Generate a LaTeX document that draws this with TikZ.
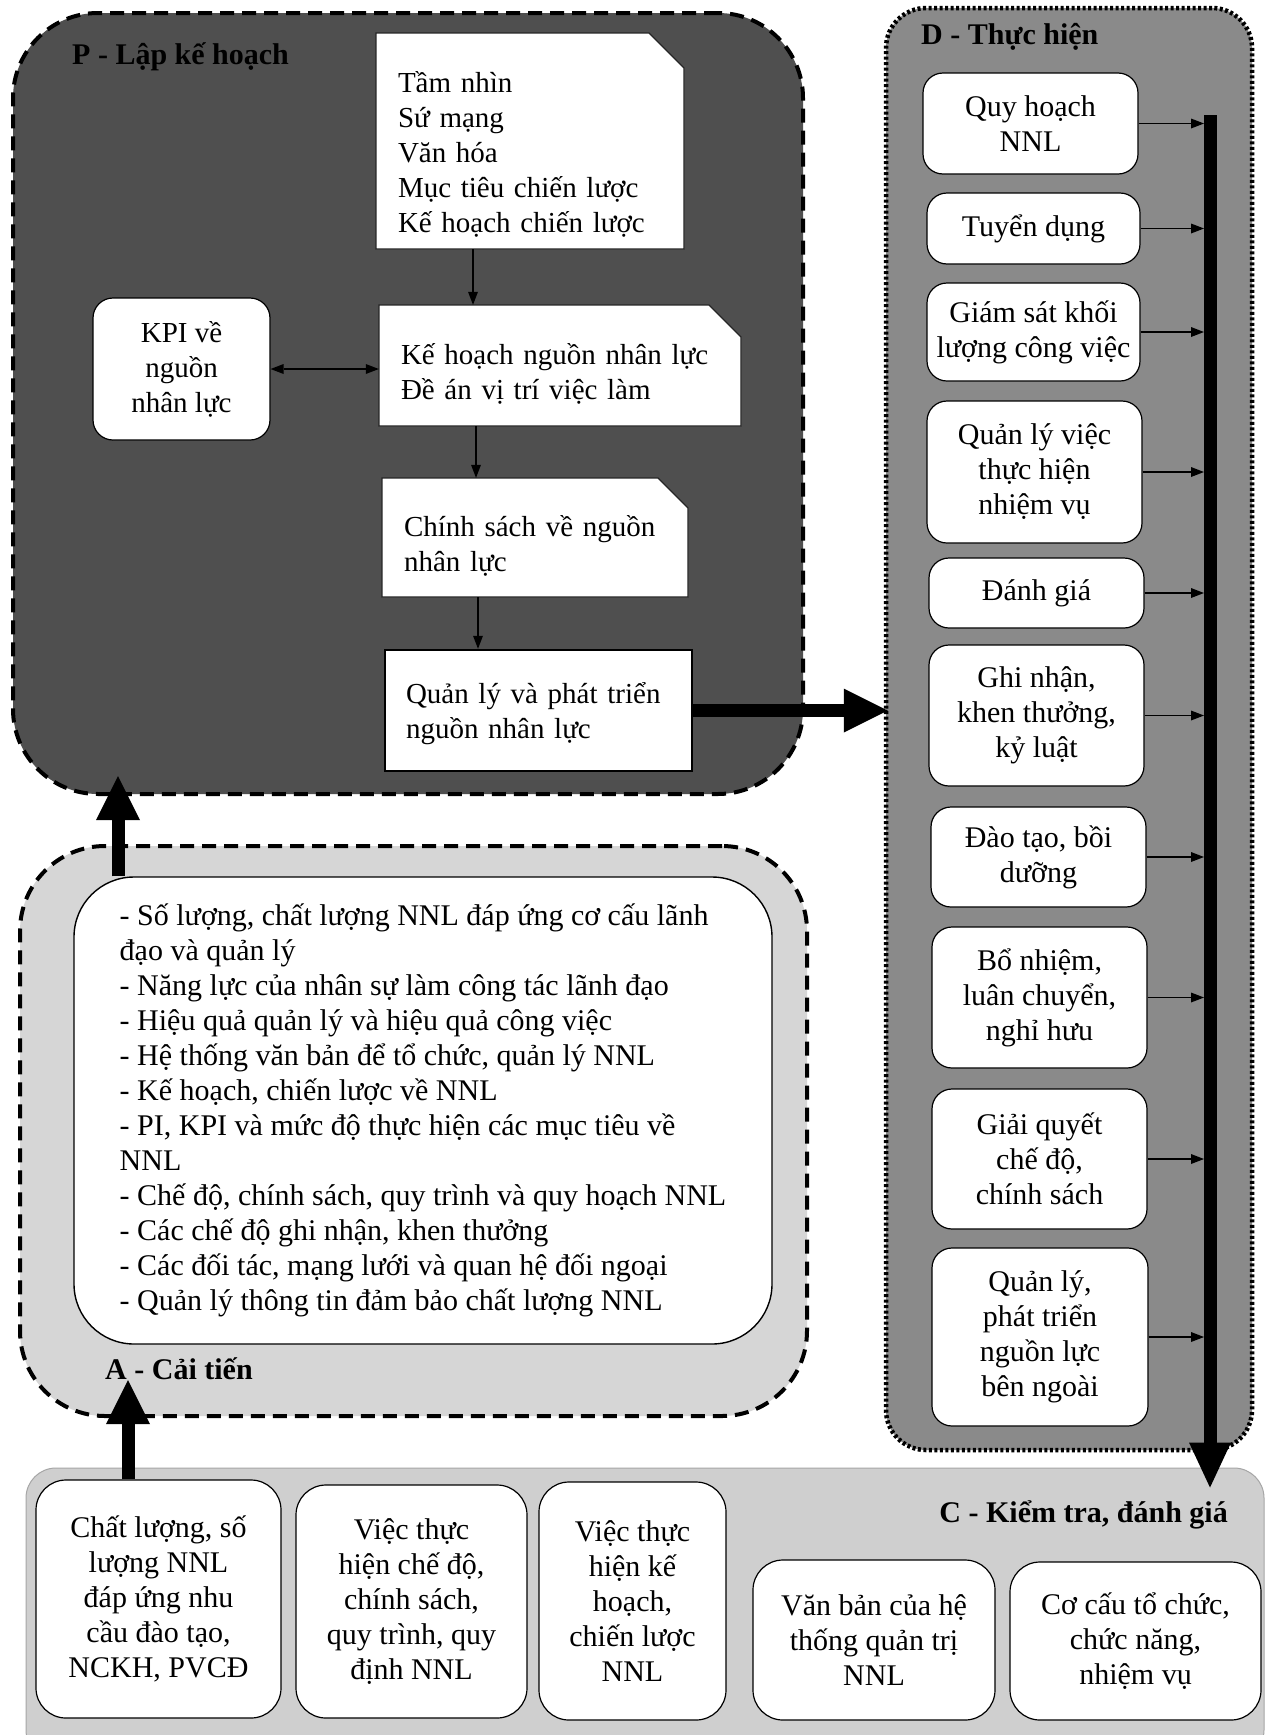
\documentclass[tikz,border=0pt]{standalone}
\usepackage{fontspec}
\setmainfont{Liberation Serif}
\usetikzlibrary{arrows.meta,calc}
\definecolor{pfill}{gray}{0.31}
\definecolor{dfill}{gray}{0.54}
\definecolor{afill}{gray}{0.84}
\definecolor{cfill}{gray}{0.81}
\newcommand\bodyfont{\fontsize{30pt}{35pt}\selectfont}
\newcommand\pfont{\fontsize{29pt}{35pt}\selectfont}
\newcommand\labfont{\fontsize{30pt}{32pt}\selectfont\bfseries}
\tikzset{
 txt/.style={font=\bodyfont, inner sep=0pt, text=black},
 ptxt/.style={font=\pfont, inner sep=0pt, text=black},
 pregion/.style={draw=black, line width=4pt, dash pattern=on 14pt off 8pt, fill=pfill, rounded corners=85pt},
 dregion/.style={draw=black, line width=4.5pt, dash pattern=on 3pt off 2.5pt, fill=dfill, rounded corners=40pt},
 aregion/.style={draw=black, line width=4pt, dash pattern=on 14pt off 8pt, fill=afill, rounded corners=85pt},
 cregion/.style={draw=black!35, line width=1pt, fill=cfill, rounded corners=30pt},
 snipframe/.style={draw=black!85, line width=1.2pt, fill=white},
 rbox/.style={txt, draw=black, line width=1.2pt, fill=white, rounded corners=20pt, align=center},
 kbox/.style={rbox, font=\pfont},
 cbox/.style={rbox, rounded corners=30pt},
 plainbox/.style={draw=black, line width=2.5pt, fill=white},
 abox/.style={txt, draw=black, line width=1.4pt, fill=white, rounded corners=60pt, align=left},
 lab/.style={font=\labfont, inner sep=0pt, text=black},
 thinarrow/.style={line width=1.3pt, -{Triangle[length=13pt,width=10pt,line width=0pt]}},
 twoway/.style={line width=1.3pt, {Triangle[length=13pt,width=10pt,line width=0pt]}-{Triangle[length=13pt,width=10pt,line width=0pt]}},
 bigarrow/.style={line width=13pt, -{Triangle[length=44pt,width=44pt,line width=0pt]}},
}
\newcommand\mkbox[7]{\node[#1, minimum width={#5-#3}, minimum height={#6-#4}] (#2) at ({(#3+#5)/2},{(#4+#6)/2}) {#7};}
% name x1 y1 x2 y2 snip text yoffset
\newcommand\mksnip[8]{%
 \draw[snipframe] (#2,#3) -- ({#4-#6},#3) -- (#4,{#3+#6}) -- (#4,#5) -- (#2,#5) -- cycle;
 \pgfmathsetmacro\snipw{#4-#2-44}%
 \node[inner sep=0pt, minimum width={#4-#2}, minimum height={#5-#3}] (#1) at ({(#2+#4)/2},{(#3+#5)/2}) {};
 \node[ptxt, align=left, text width=\snipw pt] (#1t) at ($(#1.center)+(0,#8)$) {#7};}
\begin{document}
\begin{tikzpicture}[x=1pt,y=-1pt]
\useasboundingbox (0,0) rectangle (1272,1735);
\fill[white] (0,0) rectangle (1272,1735);
% regions
\mkbox{pregion}{P}{13}{13}{803}{794}{}
\mkbox{dregion}{D}{886}{8}{1252}{1450}{}
\mkbox{aregion}{A}{20}{846}{807}{1416}{}
\mkbox{cregion}{C}{26}{1468}{1264}{1760}{}
% labels
\node[lab, anchor=west] (Plab) at (72,57) {P - Lập kế hoạch};
\node[lab, anchor=west] (Dlab) at (921,37) {D - Thực hiện};
\node[lab, anchor=west] (Alab) at (105,1369) {A - Cải tiến};
\node[lab, anchor=east] (Clab) at (1228,1515) {C - Kiểm tra, đánh giá};
% P boxes
\mksnip{b1}{376}{33}{684}{249}{35}{Tầm nhìn\\Sứ mạng\\Văn hóa\\Mục tiêu chiến lược\\Kế hoạch chiến lược}{13}
\mksnip{b2}{379}{305}{741}{426}{32}{Kế hoạch nguồn nhân lực\\Đề án vị trí việc làm}{8}
\mksnip{b3}{382}{478}{688}{597}{30}{Chính sách về nguồn\\nhân lực}{8}
\mkbox{plainbox}{b4}{385}{650}{692}{771}{}
\node[ptxt, align=left, text width=265pt] (b4t) at ($(b4.center)+(0,3)$) {Quản lý và phát triển\\nguồn nhân lực};
\mkbox{kbox}{kpi}{93}{298}{270}{440}{KPI về\\nguồn\\nhân lực}
% D boxes
\mkbox{rbox}{d1}{923}{73}{1138}{174}{Quy hoạch\\NNL}
\mkbox{rbox}{d2}{927}{193}{1140}{264}{Tuyển dụng}
\mkbox{rbox}{d3}{927}{283}{1140}{381}{Giám sát khối\\lượng công việc}
\mkbox{rbox}{d4}{927}{401}{1142}{543}{Quản lý việc\\thực hiện\\nhiệm vụ}
\mkbox{rbox}{d5}{929}{558}{1144}{628}{Đánh giá}
\mkbox{rbox}{d6}{929}{645}{1144}{786}{Ghi nhận,\\khen thưởng,\\kỷ luật}
\mkbox{rbox}{d7}{931}{807}{1146}{907}{Đào tạo, bồi\\dưỡng}
\mkbox{rbox}{d8}{932}{927}{1147}{1068}{Bổ nhiệm,\\luân chuyển,\\nghỉ hưu}
\mkbox{rbox}{d9}{932}{1089}{1147}{1229}{Giải quyết\\chế độ,\\chính sách}
\mkbox{rbox}{d10}{932}{1248}{1148}{1426}{Quản lý,\\phát triển\\nguồn lực\\bên ngoài}
% A box
\mkbox{abox}{abox}{74}{877}{772}{1344}{- Số lượng, chất lượng NNL đáp ứng cơ cấu lãnh\\đạo và quản lý\\- Năng lực của nhân sự làm công tác lãnh đạo\\- Hiệu quả quản lý và hiệu quả công việc\\- Hệ thống văn bản để tổ chức, quản lý NNL\\- Kế hoạch, chiến lược về NNL\\- PI, KPI và mức độ thực hiện các mục tiêu về\\NNL\\- Chế độ, chính sách, quy trình và quy hoạch NNL\\- Các chế độ ghi nhận, khen thưởng\\- Các đối tác, mạng lưới và quan hệ đối ngoại\\- Quản lý thông tin đảm bảo chất lượng NNL}
% C boxes
\mkbox{cbox}{c1}{36}{1480}{281}{1718}{Chất lượng, số\\lượng NNL\\đáp ứng nhu\\cầu đào tạo,\\NCKH, PVCĐ}
\mkbox{cbox}{c2}{296}{1485}{527}{1718}{Việc thực\\hiện chế độ,\\chính sách,\\quy trình, quy\\định NNL}
\mkbox{cbox}{c3}{539}{1482}{726}{1720}{Việc thực\\hiện kế\\hoạch,\\chiến lược\\NNL}
\mkbox{cbox}{c4}{753}{1560}{995}{1720}{Văn bản của hệ\\thống quản trị\\NNL}
\mkbox{cbox}{c5}{1010}{1562}{1261}{1720}{Cơ cấu tổ chức,\\chức năng,\\nhiệm vụ}
% P connectors
\coordinate (xa) at (473,0);
\coordinate (xb) at (476,0);
\coordinate (xc) at (478,0);
\draw[thinarrow] (b1.south -| xa) -- (b2.north -| xa);
\draw[thinarrow] (b2.south -| xb) -- (b3.north -| xb);
\draw[thinarrow] (b3.south -| xc) -- (b4.north -| xc);
\draw[twoway] (kpi.east) -- (kpi.east -| b2.west);
\draw[bigarrow] (b4.east) -- ($(b4.east -| D.west)+(4,0)$);
% A -> P, C -> A
\coordinate (xA) at (118,0);
\coordinate (xC) at (128,0);
\draw[bigarrow] (abox.north -| xA) -- ($(P.south -| xA)+(0,-20)$);
\draw[bigarrow] (c1.north -| xC) -- ($(A.south -| xC)+(0,-38)$);
% D bar
\coordinate (bartop) at (1210,115);
\coordinate (barL) at (1204,0);
\draw[line width=13pt, -{Triangle[length=45pt,width=42pt,line width=0pt]}] (bartop) -- ($(C.north -| bartop)+(0,20)$);
\foreach \i in {1,...,10} \draw[thinarrow] (d\i.east) -- (d\i.east -| barL);
\end{tikzpicture}
\end{document}
